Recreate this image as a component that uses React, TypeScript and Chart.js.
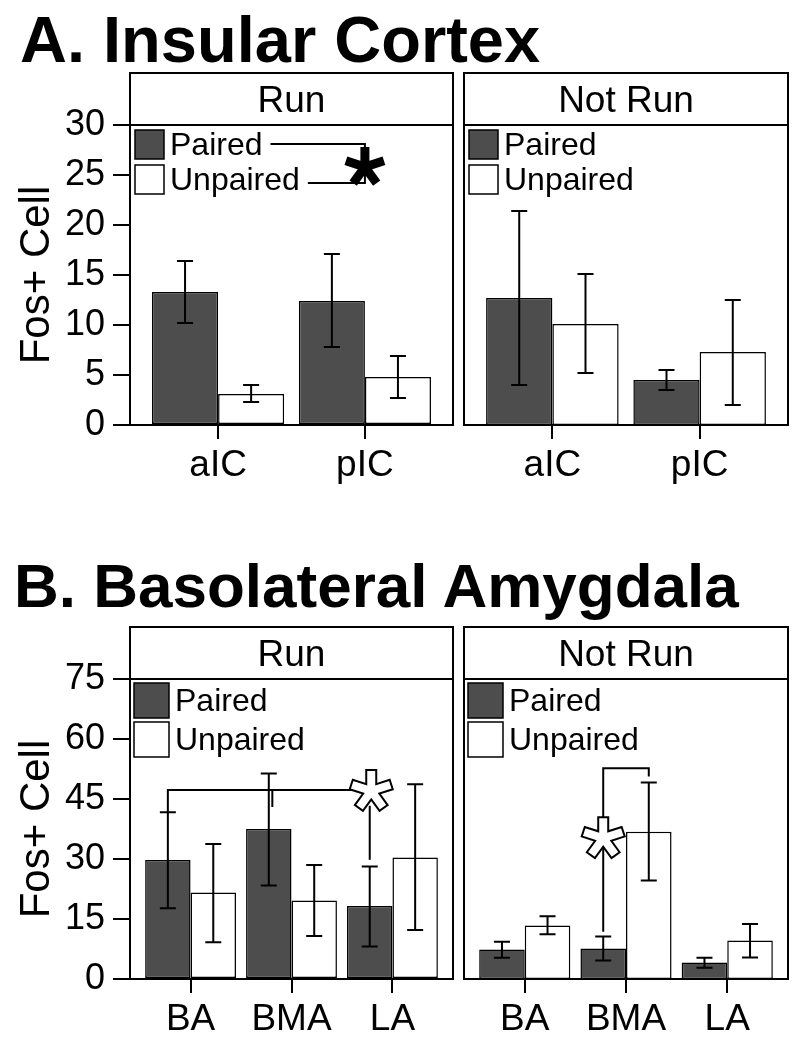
import React, { useEffect, useRef } from 'react';
import { Chart, registerables } from 'chart.js';

Chart.register(...registerables);

const FONT = '"Liberation Sans", Arial, Helvetica, sans-serif';

// ---- shared ----
const seriesNames = ['Paired', 'Unpaired'];
const seriesColors = ['#4d4d4d', '#ffffff'];
const stripLabels = ['Run', 'Not Run'];
const yAxisTitle = 'Fos+ Cell';
const titleA = 'A. Insular Cortex';
const titleB = 'B. Basolateral Amygdala';

// ---- A. Insular cortex ----
const insularCategories = ['aIC', 'pIC'];
const insularTicks = [0, 5, 10, 15, 20, 25, 30];
const insularRunPaired = [13.3, 12.4];
const insularRunPairedLow = [10.2, 7.8];
const insularRunPairedHigh = [16.4, 17.1];
const insularRunUnpaired = [3.1, 4.8];
const insularRunUnpairedLow = [2.3, 2.7];
const insularRunUnpairedHigh = [4.0, 6.9];
const insularNotRunPaired = [12.7, 4.5];
const insularNotRunPairedLow = [4.0, 3.5];
const insularNotRunPairedHigh = [21.4, 5.5];
const insularNotRunUnpaired = [10.1, 7.3];
const insularNotRunUnpairedLow = [5.2, 2.0];
const insularNotRunUnpairedHigh = [15.1, 12.5];

// ---- B. Basolateral amygdala ----
const amygCategories = ['BA', 'BMA', 'LA'];
const amygTicks = [0, 15, 30, 45, 60, 75];
const amygRunPaired = [29.75, 37.5, 18.25];
const amygRunPairedLow = [17.7, 23.4, 8.1];
const amygRunPairedHigh = [41.7, 51.4, 28.1];
const amygRunUnpaired = [21.6, 19.6, 30.4];
const amygRunUnpairedLow = [9.2, 10.75, 12.25];
const amygRunUnpairedHigh = [33.75, 28.5, 48.7];
const amygNotRunPaired = [7.4, 7.6, 4.1];
const amygNotRunPairedLow = [5.3, 4.6, 2.8];
const amygNotRunPairedHigh = [9.3, 10.6, 5.3];
const amygNotRunUnpaired = [13.4, 36.8, 9.6];
const amygNotRunUnpairedLow = [11.2, 24.6, 5.4];
const amygNotRunUnpairedHigh = [15.7, 49.1, 13.75];

// ---- significance annotations (data units) ----
const insularRunSigX = 2.0;
const insularRunBracketY = [28.1, 24.2];
const insularRunStar = [2.0, 25.8];
const amygRunBracket = [[0.775, 41.7], [0.775, 47.25], [2.775, 47.25]];
const amygRunTick = [[1.81, 47.25], [1.81, 43]];
const amygRunStem = [[2.775, 43.3], [2.775, 29.8]];
const amygRunStar = [2.79, 47.0];
const amygNotRunBracket = [[1.775, 11.8], [1.775, 52.7], [2.225, 52.7], [2.225, 50.6]];
const amygNotRunStar = [1.775, 35.2];

type Pad = { left: number; right: number; top: number; bottom: number };
type PanelSpec = {
  key: string;
  left: number; top: number; width: number; height: number;
  pad: Pad;
  yAxisWidth: number | null;
  xAxisHeight: number;
  categories: string[];
  means: number[][]; lows: number[][]; highs: number[][];
  yTicks: number[];
  strip: string;
  stripHeight: number;
  legendBox: number; legendGap: number; legendInset: number;
  annotate?: (chart: any, legendRows: { y: number; textEnd: number }[]) => void;
};

// five-armed asterisk (like the Arial '*' glyph)
function drawStar(ctx: CanvasRenderingContext2D, cx: number, cy: number, R: number, w: number, fill: string) {
  const n = 5;
  const step = (2 * Math.PI) / n;
  ctx.save();
  ctx.beginPath();
  for (let k = 0; k < n; k++) {
    const th = -Math.PI / 2 + k * step;
    const ux = Math.cos(th), uy = Math.sin(th);
    const px = -uy, py = ux;
    const x1 = cx + R * ux - w * px, y1 = cy + R * uy - w * py;
    const x2 = cx + R * ux + w * px, y2 = cy + R * uy + w * py;
    const ti = th + step / 2, ri = w / Math.sin(step / 2);
    if (k === 0) ctx.moveTo(x1, y1); else ctx.lineTo(x1, y1);
    ctx.lineTo(x2, y2);
    ctx.lineTo(cx + ri * Math.cos(ti), cy + ri * Math.sin(ti));
  }
  ctx.closePath();
  ctx.fillStyle = fill;
  ctx.fill();
  ctx.lineWidth = 2;
  ctx.strokeStyle = '#000';
  ctx.lineJoin = 'miter';
  ctx.stroke();
  ctx.restore();
}

function polyline(chart: any, pts: number[][]) {
  const { ctx, scales } = chart;
  ctx.save();
  ctx.beginPath();
  pts.forEach((p, i) => {
    const x = scales.x.getPixelForValue(p[0]);
    const y = scales.y.getPixelForValue(p[1]);
    if (i === 0) ctx.moveTo(x, y); else ctx.lineTo(x, y);
  });
  ctx.lineWidth = 2;
  ctx.strokeStyle = '#000';
  ctx.stroke();
  ctx.restore();
}

function starAt(chart: any, p: number[], R: number, w: number, fill: string) {
  const { scales } = chart;
  drawStar(chart.ctx, scales.x.getPixelForValue(p[0]), scales.y.getPixelForValue(p[1]), R, w, fill);
}

function makePlugin(s: PanelSpec) {
  return {
    id: 'facet_' + s.key,
    afterDatasetsDraw(chart: any) {
      const { ctx, scales } = chart;
      ctx.save();
      ctx.strokeStyle = '#000';
      ctx.lineWidth = 2;
      chart.data.datasets.forEach((ds: any, d: number) => {
        const meta = chart.getDatasetMeta(d);
        meta.data.forEach((bar: any, i: number) => {
          const x = bar.x;
          const yl = scales.y.getPixelForValue(ds.errLow[i]);
          const yh = scales.y.getPixelForValue(ds.errHigh[i]);
          ctx.beginPath();
          ctx.moveTo(x, yl); ctx.lineTo(x, yh);
          ctx.moveTo(x - 8, yl); ctx.lineTo(x + 8, yl);
          ctx.moveTo(x - 8, yh); ctx.lineTo(x + 8, yh);
          ctx.stroke();
        });
      });
      ctx.restore();
    },
    afterDraw(chart: any) {
      const { ctx, chartArea: a } = chart;
      ctx.save();
      ctx.strokeStyle = '#000';
      ctx.lineWidth = 2;
      // panel border
      ctx.strokeRect(a.left, a.top, a.right - a.left, a.bottom - a.top);
      // strip
      ctx.fillStyle = '#fff';
      ctx.fillRect(a.left, a.top - s.stripHeight, a.right - a.left, s.stripHeight);
      ctx.strokeRect(a.left, a.top - s.stripHeight, a.right - a.left, s.stripHeight);
      ctx.fillStyle = '#000';
      ctx.font = `37px ${FONT}`;
      ctx.textAlign = 'center';
      ctx.textBaseline = 'middle';
      ctx.fillText(s.strip, (a.left + a.right) / 2, a.top - s.stripHeight / 2 + 3);
      // legend
      const rows: { y: number; textEnd: number }[] = [];
      ctx.font = `32px ${FONT}`;
      ctx.textAlign = 'left';
      seriesNames.forEach((name, k) => {
        const bx = a.left + s.legendInset;
        const by = a.top + s.legendInset + k * s.legendGap;
        ctx.fillStyle = seriesColors[k];
        ctx.fillRect(bx, by, s.legendBox, s.legendBox);
        ctx.lineWidth = 1.5;
        ctx.strokeRect(bx, by, s.legendBox, s.legendBox);
        ctx.fillStyle = '#000';
        const tx = bx + s.legendBox + 6;
        const cy = by + s.legendBox / 2;
        ctx.fillText(name, tx, cy + 2);
        rows.push({ y: cy, textEnd: tx + ctx.measureText(name).width });
      });
      ctx.restore();
      if (s.annotate) s.annotate(chart, rows);
    },
  };
}

function buildConfig(s: PanelSpec) {
  const n = s.categories.length;
  const datasets = seriesNames.map((name, k) => ({
    label: name,
    data: s.categories.map((_, i) => ({ x: i + 1, y: s.means[k][i] })),
    errLow: s.lows[k],
    errHigh: s.highs[k],
    backgroundColor: seriesColors[k],
    borderColor: '#000',
    borderWidth: 1.5,
    borderSkipped: false,
    categoryPercentage: 0.9,
    barPercentage: 1.0,
  }));
  const yMax = s.yTicks[s.yTicks.length - 1];
  const yScale: any = s.yAxisWidth === null
    ? { display: false, min: 0, max: yMax }
    : {
        min: 0, max: yMax,
        afterBuildTicks: (sc: any) => { sc.ticks = s.yTicks.map((v) => ({ value: v })); },
        afterFit: (sc: any) => { sc.width = s.yAxisWidth; },
        grid: { drawOnChartArea: false, drawTicks: true, tickLength: 17, color: '#000', lineWidth: 2 },
        border: { display: false },
        ticks: { color: '#000', font: { size: 36, family: FONT }, padding: 8 },
        title: { display: true, text: yAxisTitle, color: '#000', font: { size: 42, family: FONT }, padding: { top: 12, bottom: 0 } },
      };
  return {
    type: 'bar',
    data: { datasets },
    options: {
      animation: false,
      responsive: false,
      maintainAspectRatio: false,
      layout: { padding: s.pad },
      plugins: { legend: { display: false }, tooltip: { enabled: false } },
      scales: {
        x: {
          type: 'linear', min: 0.4, max: n + 0.6, offset: false,
          afterBuildTicks: (sc: any) => { sc.ticks = s.categories.map((_, i) => ({ value: i + 1 })); },
          afterFit: (sc: any) => { sc.height = s.xAxisHeight; },
          grid: { offset: false, drawOnChartArea: false, drawTicks: true, tickLength: 14, color: '#000', lineWidth: 2 },
          border: { display: false },
          ticks: {
            autoSkip: false, maxRotation: 0, minRotation: 0, color: '#000', padding: 5,
            font: { size: 37, family: FONT },
            callback: (v: number) => s.categories[Math.round(v) - 1] ?? '',
          },
        },
        y: yScale,
      },
    },
    plugins: [makePlugin(s)],
  };
}

function Panel({ spec }: { spec: PanelSpec }) {
  const ref = useRef<HTMLCanvasElement>(null);
  useEffect(() => {
    const chart = new Chart(ref.current as HTMLCanvasElement, buildConfig(spec) as any);
    return () => chart.destroy();
  }, [spec]);
  return (
    <canvas
      ref={ref}
      width={spec.width}
      height={spec.height}
      style={{ position: 'absolute', left: spec.left, top: spec.top, width: spec.width, height: spec.height }}
    />
  );
}

const topCommon = { top: 0, height: 490, xAxisHeight: 65, stripHeight: 52, yTicks: insularTicks, categories: insularCategories, legendBox: 29, legendGap: 35, legendInset: 5 };
const botCommon = { top: 520, height: 522, xAxisHeight: 63, stripHeight: 52, yTicks: amygTicks, categories: amygCategories, legendBox: 35, legendGap: 39, legendInset: 4 };

const panels: PanelSpec[] = [
  {
    ...topCommon, key: 'aRun', left: 0, width: 460, pad: { left: 0, right: 7, top: 125, bottom: 0 }, yAxisWidth: 130,
    strip: stripLabels[0],
    means: [insularRunPaired, insularRunUnpaired],
    lows: [insularRunPairedLow, insularRunUnpairedLow],
    highs: [insularRunPairedHigh, insularRunUnpairedHigh],
    annotate: (chart, rows) => {
      const { ctx, scales } = chart;
      const xv = scales.x.getPixelForValue(insularRunSigX);
      const y0 = scales.y.getPixelForValue(insularRunBracketY[0]);
      const y1 = scales.y.getPixelForValue(insularRunBracketY[1]);
      ctx.save();
      ctx.strokeStyle = '#000';
      ctx.lineWidth = 2;
      ctx.beginPath();
      ctx.moveTo(rows[0].textEnd + 8, y0); ctx.lineTo(xv, y0);
      ctx.lineTo(xv, y1); ctx.lineTo(rows[1].textEnd + 8, y1);
      ctx.stroke();
      ctx.restore();
      starAt(chart, insularRunStar, 19, 3.5, '#000');
    },
  },
  {
    ...topCommon, key: 'aNot', left: 460, width: 340, pad: { left: 4, right: 12, top: 125, bottom: 0 }, yAxisWidth: null,
    strip: stripLabels[1],
    means: [insularNotRunPaired, insularNotRunUnpaired],
    lows: [insularNotRunPairedLow, insularNotRunUnpairedLow],
    highs: [insularNotRunPairedHigh, insularNotRunUnpairedHigh],
  },
  {
    ...botCommon, key: 'bRun', left: 0, width: 460, pad: { left: 0, right: 7, top: 159, bottom: 0 }, yAxisWidth: 130,
    strip: stripLabels[0],
    means: [amygRunPaired, amygRunUnpaired],
    lows: [amygRunPairedLow, amygRunUnpairedLow],
    highs: [amygRunPairedHigh, amygRunUnpairedHigh],
    annotate: (chart) => {
      polyline(chart, amygRunBracket);
      polyline(chart, amygRunTick);
      polyline(chart, amygRunStem);
      starAt(chart, amygRunStar, 21, 5, '#fff');
    },
  },
  {
    ...botCommon, key: 'bNot', left: 460, width: 340, pad: { left: 4, right: 12, top: 159, bottom: 0 }, yAxisWidth: null,
    strip: stripLabels[1],
    means: [amygNotRunPaired, amygNotRunUnpaired],
    lows: [amygNotRunPairedLow, amygNotRunUnpairedLow],
    highs: [amygNotRunPairedHigh, amygNotRunUnpairedHigh],
    annotate: (chart) => {
      polyline(chart, amygNotRunBracket);
      starAt(chart, amygNotRunStar, 21, 5, '#fff');
    },
  },
];

const titleStyle: React.CSSProperties = {
  position: 'absolute', margin: 0, fontFamily: FONT, fontWeight: 'bold', lineHeight: 1, whiteSpace: 'nowrap', color: '#000',
};

export default function App() {
  return (
    <div style={{ position: 'absolute', left: 0, top: 0, width: 800, height: 1042, background: '#fff', overflow: 'hidden' }}>
      <div style={{ ...titleStyle, left: 20, top: 7, fontSize: 65 }}>{titleA}</div>
      <div style={{ ...titleStyle, left: 14, top: 555, fontSize: 62 }}>{titleB}</div>
      {panels.map((p) => <Panel key={p.key} spec={p} />)}
    </div>
  );
}
